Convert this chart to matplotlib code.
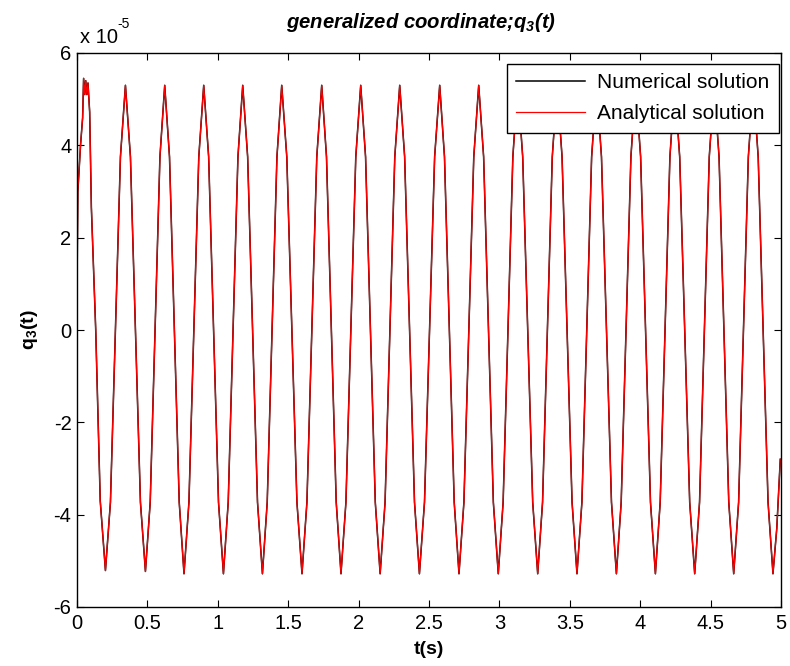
import matplotlib
matplotlib.use("Agg")
import matplotlib.pyplot as plt

plt.rcParams['font.family'] = ['Liberation Sans', 'DejaVu Sans']

# time (s) and q3(t) in units of 1e-5
t_s = [
    0.000, 0.006, 0.025, 0.040, 0.047, 0.055, 0.062, 0.070, 0.078, 0.090, 0.102, 0.133, 0.165,
    0.202, 0.2375, 0.273, 0.3085,
    0.344, 0.3795, 0.415, 0.4505,
    0.486, 0.520, 0.5545, 0.589,
    0.623, 0.657, 0.6915, 0.726,
    0.760, 0.795, 0.830, 0.865,
    0.900, 0.935, 0.970, 1.005,
    1.040, 1.074, 1.1085, 1.143,
    1.177, 1.212, 1.247, 1.282,
    1.317, 1.351, 1.3855, 1.420,
    1.454, 1.490, 1.526, 1.562,
    1.598, 1.633, 1.668, 1.703,
    1.738, 1.772, 1.8065, 1.841,
    1.875, 1.910, 1.945, 1.980,
    2.015, 2.0495, 2.084, 2.1185,
    2.153, 2.188, 2.2225, 2.257,
    2.292, 2.327, 2.362, 2.397,
    2.432, 2.468, 2.504, 2.540,
    2.576, 2.610, 2.6445, 2.679,
    2.713, 2.748, 2.783, 2.818,
    2.853, 2.888, 2.9225, 2.957,
    2.992, 3.0265, 3.061, 3.0955,
    3.130, 3.1655, 3.201, 3.2365,
    3.272, 3.3065, 3.341, 3.3755,
    3.410, 3.445, 3.4805, 3.516,
    3.551, 3.586, 3.6205, 3.655,
    3.690, 3.725, 3.7605, 3.796,
    3.831, 3.865, 3.8995, 3.934,
    3.968, 4.003, 4.038, 4.073,
    4.108, 4.142, 4.1765, 4.211,
    4.245, 4.2805, 4.316, 4.3515,
    4.387, 4.4215, 4.456, 4.4905,
    4.525, 4.560, 4.5945, 4.629,
    4.664, 4.699, 4.7335, 4.768,
    4.803, 4.838, 4.873, 4.908,
    4.943, 4.970, 4.995,
]

q_analytical = [
    0.90, 3.00, 4.00, 4.60, 5.45, 5.10, 5.40, 5.10, 5.35, 4.72, 2.66, 0.00, -3.70,
    -5.21, -3.73, 0.00, 3.75,
    5.30, 3.75, 0.00, -3.73,
    -5.23, -3.73, 0.00, 3.75,
    5.30, 3.75, 0.00, -3.73,
    -5.28, -3.73, 0.00, 3.75,
    5.30, 3.75, 0.00, -3.73,
    -5.28, -3.73, 0.00, 3.75,
    5.30, 3.75, 0.00, -3.73,
    -5.28, -3.73, 0.00, 3.75,
    5.30, 3.75, 0.00, -3.73,
    -5.28, -3.73, 0.00, 3.75,
    5.30, 3.75, 0.00, -3.73,
    -5.28, -3.73, 0.00, 3.75,
    5.30, 3.75, 0.00, -3.73,
    -5.28, -3.73, 0.00, 3.75,
    5.30, 3.75, 0.00, -3.73,
    -5.28, -3.73, 0.00, 3.75,
    5.30, 3.75, 0.00, -3.73,
    -5.28, -3.73, 0.00, 3.75,
    5.30, 3.75, 0.00, -3.73,
    -5.28, -3.73, 0.00, 3.75,
    5.30, 3.75, 0.00, -3.73,
    -5.28, -3.73, 0.00, 3.75,
    5.30, 3.75, 0.00, -3.73,
    -5.28, -3.73, 0.00, 3.75,
    5.30, 3.75, 0.00, -3.73,
    -5.28, -3.73, 0.00, 3.75,
    5.30, 3.75, 0.00, -3.73,
    -5.28, -3.73, 0.00, 3.75,
    5.30, 3.75, 0.00, -3.73,
    -5.28, -3.73, 0.00, 3.75,
    5.30, 3.75, 0.00, -3.73,
    -5.28, -3.73, 0.00, 3.75,
    5.30, 3.75, 0.00, -3.73,
    -5.28, -4.30, -2.80,
]
# numerical solution coincides with the analytical one at this scale
q_numerical = list(q_analytical)

x_ticks = [0, 0.5, 1, 1.5, 2, 2.5, 3, 3.5, 4, 4.5, 5]
x_tick_labels = ['0', '0.5', '1', '1.5', '2', '2.5', '3', '3.5', '4', '4.5', '5']
y_ticks = [-6, -4, -2, 0, 2, 4, 6]
y_tick_labels = ['-6', '-4', '-2', '0', '2', '4', '6']

fig = plt.figure(figsize=(7.9, 6.66), dpi=100)
ax = fig.add_axes([77/790, 1-607/666, (781-77)/790, (607-53)/666])

ax.plot(t_s, q_numerical, color='black', lw=1.1, label='Numerical solution')
ax.plot(t_s, q_analytical, color='#ff0000', lw=0.9, label='Analytical solution')

ax.set_xlim(0, 5)
ax.set_ylim(-6, 6)
ax.set_xticks(x_ticks)
ax.set_xticklabels(x_tick_labels)
ax.set_yticks(y_ticks)
ax.set_yticklabels(y_tick_labels)
ax.tick_params(direction='in', length=5, width=0.8, top=True, right=True,
               labelsize=14.5)
ax.tick_params(axis='x', pad=5)
ax.tick_params(axis='y', pad=4)
for s in ax.spines.values():
    s.set_linewidth(1.0)

ax.set_xlabel('t(s)', fontsize=14, fontweight='bold', labelpad=6)
ax.set_ylabel(r'q$\mathregular{_3}$(t)', fontsize=14, fontweight='bold', labelpad=10)
ax.set_title(r'generalized coordinate;q$\mathregular{_3}$(t)', fontsize=14.6,
             fontweight='bold', fontstyle='italic', pad=18, x=0.489)
ax.text(0.004, 1.011, 'x 10', transform=ax.transAxes,
        fontsize=14.5, ha='left', va='bottom')
ax.text(0.058, 1.039, '-5', transform=ax.transAxes,
        fontsize=10, ha='left', va='bottom')

leg = ax.legend(loc='upper right', bbox_to_anchor=(0.997, 0.981), borderaxespad=0,
                fancybox=False, edgecolor='black', framealpha=1, fontsize=15,
                handlelength=3.3, handletextpad=0.6, borderpad=0.45,
                labelspacing=0.6)
leg.get_frame().set_linewidth(1.0)

fig.savefig('out.png', dpi=100)
